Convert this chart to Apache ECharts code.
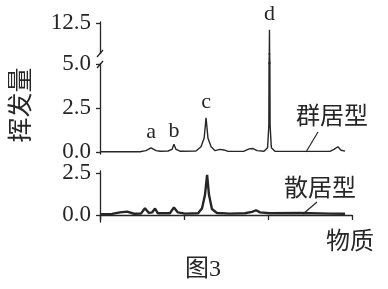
<!DOCTYPE html>
<html><head><meta charset="utf-8">
<script src="https://cdn.jsdelivr.net/npm/echarts@6/dist/echarts.min.js"></script>
<style>html,body{margin:0;padding:0;background:#fff}#c{width:388px;height:289px}</style>
</head><body><div id="c"></div>
<script>
// ---- data (x in arbitrary "物质" units 0..120, y = 挥发量) ----
const topX = [0, 19, 21.9, 24.3, 26.7, 28.6, 32.4, 34.3, 35.2, 36.2, 38.1, 45.7, 48.1, 49.6, 50.5, 51.4, 52.9, 54.8, 57.1, 59.0, 61.0, 68.6, 71.0, 72.9, 74.8, 78.1, 79.8, 80.4, 80.7, 81.0, 81.6, 83.3, 109.5, 111.4, 113.3, 114.8, 116.7];
const topY = [0.02, 0.02, 0.08, 0.24, 0.08, 0.05, 0.06, 0.15, 0.45, 0.15, 0.05, 0.06, 0.3, 0.8, 1.95, 0.8, 0.3, 0.08, 0.15, 0.12, 0.04, 0.05, 0.18, 0.2, 0.08, 0.05, 0.25, 1.5, 11.8, 1.5, 0.25, 0.05, 0.04, 0.15, 0.3, 0.1, 0.05];
const topLabels = ['', '', '', 'a', '', '', '', '', 'b', '', '', '', '', '', 'c', '', '', '', '', '', '', '', '', '', '', '', '', '', 'd', '', '', '', '', '', '', '', ''];
const botX = [0, 5.7, 9.5, 12.9, 16.2, 19.5, 21.4, 23.3, 24.8, 26.2, 27.6, 33.3, 35.2, 37.1, 40.5, 46.7, 48.6, 50.0, 51.0, 51.9, 53.3, 55.7, 61.9, 69.0, 72.4, 74.3, 76.2, 81.0, 95.2, 109.5, 116.7];
const botY = [0.05, 0.06, 0.15, 0.2, 0.07, 0.08, 0.4, 0.12, 0.15, 0.38, 0.1, 0.1, 0.45, 0.15, 0.08, 0.1, 0.4, 1.2, 2.38, 1.2, 0.35, 0.12, 0.08, 0.1, 0.18, 0.28, 0.15, 0.1, 0.12, 0.08, 0.07];
const topTicksLow = [0, 2.5, 5.0];
const topTicksHigh = [12.5];
const botTicks = [0, 2.5];
const xTicks = [0, 40, 80, 120];

const SERIF = '"Liberation Serif", "DejaVu Serif", serif';
const CJK = '"Liberation Serif", "Noto Sans CJK SC", serif';
const INK = '#262626';

function pairs(xs, ys, labels, lblShow) {
  return xs.map((x, i) => {
    const item = { value: [x, ys[i]] };
    if (labels && labels[i] && lblShow.includes(labels[i])) {
      item.label = { show: true, formatter: labels[i], position: 'top', distance: labels[i] === 'b' ? 2 : 5,
        fontFamily: SERIF, fontSize: 22, color: INK };
    }
    return item;
  });
}

const L = 100, W = 252;
const grids = [
  { left: L, width: W, top: 22, height: 32 },   // 0 upper (above break)
  { left: L, width: W, top: 54, height: 9 },    // 1 break gap
  { left: L, width: W, top: 63, height: 91 },   // 2 lower part of top panel
  { left: L, width: W, top: 171, height: 51 }   // 3 bottom panel
];
const xAxes = grids.map((g, i) => ({
  type: 'value', gridIndex: i, min: 0, max: 120,
  show: i === 3,
  axisLine: { show: true, lineStyle: { color: INK, width: 1.3 } },
  axisTick: { show: true, inside: false, length: 5, lineStyle: { color: INK, width: 1.3 }, customValues: xTicks },
  axisLabel: { show: false },
  splitLine: { show: false }
}));
function yAx(i, min, max, ticks, showLine) {
  return {
    type: 'value', gridIndex: i, min: min, max: max,
    axisLine: { show: showLine, onZero: false, lineStyle: { color: INK, width: 1.3 } },
    axisTick: { show: ticks.length > 0, length: 4, lineStyle: { color: INK, width: 1.3 }, customValues: ticks },
    axisLabel: { show: ticks.length > 0, customValues: ticks, formatter: v => v.toFixed(1),
      fontFamily: SERIF, fontSize: 23, color: INK, margin: 9 },
    splitLine: { show: false }
  };
}
const yAxes = [
  yAx(0, 9.3, 12.6, topTicksHigh, true),
  yAx(1, 5.06, 9.3, [], false),
  yAx(2, -0.11, 5.06, topTicksLow, true),
  yAx(3, -0.42, 2.616, botTicks, true)
];
function lineSeries(i, data, width) {
  return { type: 'line', xAxisIndex: i, yAxisIndex: i, data: data,
    symbol: 'circle', symbolSize: 0, showSymbol: true, showAllSymbol: true, clip: true,
    itemStyle: { color: INK },
    lineStyle: { color: INK, width: width }, animation: false };
}
const series = [
  lineSeries(0, pairs(topX, topY, topLabels, ['d']), 1.4),
  lineSeries(1, pairs(topX, topY, null, []), 1.4),
  lineSeries(2, pairs(topX, topY, topLabels, ['a', 'b', 'c']), 1.4),
  lineSeries(3, pairs(botX, botY, null, []), 2.4)
];

const chart = echarts.init(document.getElementById('c'), null, { renderer: 'canvas' });
chart.setOption({
  backgroundColor: '#fff',
  animation: false,
  grid: grids, xAxis: xAxes, yAxis: yAxes, series: series,
  graphic: [
    { type: 'rect', shape: { x: 96, y: 54, width: 8, height: 9 }, style: { fill: '#fff' }, z: 100 },
    { type: 'line', shape: { x1: 103, y1: 50, x2: 97, y2: 57 }, style: { stroke: INK, lineWidth: 1.3 }, z: 101 },
    { type: 'line', shape: { x1: 103, y1: 61, x2: 97, y2: 68 }, style: { stroke: INK, lineWidth: 1.3 }, z: 101 },
    { type: 'text', x: 22, y: 105, rotation: Math.PI / 2,
      style: { text: '挥发量', fontFamily: CJK, fontSize: 25, fill: INK, align: 'center', verticalAlign: 'middle' } },
    { type: 'text', x: 332, y: 118,
      style: { text: '群居型', fontFamily: CJK, fontSize: 24, fill: INK, align: 'center', verticalAlign: 'middle' } },
    { type: 'line', shape: { x1: 318, y1: 132, x2: 306, y2: 152 }, style: { stroke: INK, lineWidth: 1.2 } },
    { type: 'text', x: 320, y: 190,
      style: { text: '散居型', fontFamily: CJK, fontSize: 24, fill: INK, align: 'center', verticalAlign: 'middle' } },
    { type: 'line', shape: { x1: 317, y1: 202, x2: 303, y2: 214 }, style: { stroke: INK, lineWidth: 1.2 } },
    { type: 'text', x: 350, y: 243,
      style: { text: '物质', fontFamily: CJK, fontSize: 24, fill: INK, align: 'center', verticalAlign: 'middle' } },
    { type: 'text', x: 203, y: 270,
      style: { text: '图3', fontFamily: CJK, fontSize: 24, fill: INK, align: 'center', verticalAlign: 'middle' } }
  ]
});
</script></body></html>
